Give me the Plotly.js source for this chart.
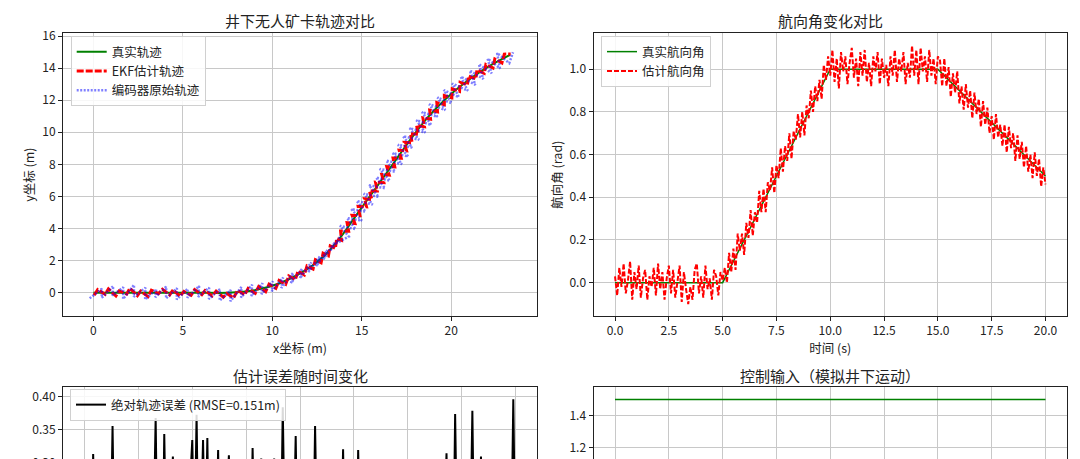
<!DOCTYPE html>
<html><head><meta charset="utf-8">
<script src="https://cdn.plot.ly/plotly-3.0.1.min.js"></script>
<style>html,body{margin:0;padding:0;overflow:hidden;background:#fff;}#chart{width:1080px;height:720px;}</style>
</head><body><div id="chart"></div>
<script>
// ---- Panel 1: trajectory (x, y in metres) ----
const trueX = [0,1.5,3,4.5,6,7.5,8.99,10.42,11.73,12.88,13.81,14.62,15.43,16.24,17.05,17.86,18.73,19.72,20.82,22.01,23.29];
const trueY = [0,0,0,0,0,0,0.149,0.592,1.31,2.275,3.448,4.71,5.97,7.23,8.5,9.76,10.98,12.11,13.13,14.04,14.82];

const ekfX = [0.04,0.24,0.66,0.84,1.26,1.44,1.86,2.04,2.46,2.64,3.06,3.24,3.64,3.86,4.26,4.46,4.84,5.06,5.46,5.66,6.06,6.24,6.64,6.86,7.26,7.46,
7.84,8.06,8.46,8.65,9.05,9.24,9.63,9.82,10.20,10.38,10.75,10.92,11.29,11.44,11.79,11.94,12.28,12.41,12.73,12.84,13.14,13.24,13.53,13.60,13.87,
13.82,14.27,14.18,14.62,14.46,14.90,14.80,15.27,15.15,15.57,15.43,15.87,15.77,16.24,16.12,16.54,16.40,16.85,16.75,17.21,17.09,17.51,17.38,17.82,17.72,
18.16,18.07,18.51,18.42,18.85,18.80,19.24,19.20,19.62,19.62,20.04,20.06,20.47,20.50,20.91,20.97,21.38,21.44,21.85,21.94,22.34,22.44,22.84,22.97,23.33];
const ekfY = [-0.16,0.20,-0.10,0.24,-0.20,0.12,-0.08,0.28,-0.18,0.10,-0.24,0.16,-0.06,0.22,-0.14,0.18,-0.22,0.08,-0.16,0.20,-0.12,0.14,-0.20,0.10,-0.28,-0.04,
-0.32,0.15,-0.13,0.27,-0.03,0.39,0.07,0.54,0.28,0.77,0.52,1.05,0.81,1.36,1.11,1.67,1.47,2.06,1.87,2.46,2.30,2.92,2.77,3.38,3.27,
3.85,3.83,4.37,4.32,4.83,4.81,5.38,5.35,5.86,5.81,6.34,6.34,6.89,6.86,7.37,7.33,7.86,7.84,8.40,8.38,8.89,8.84,9.37,9.35,9.92,
9.87,10.42,10.35,10.90,10.82,11.38,11.28,11.85,11.72,12.29,12.15,12.71,12.55,13.11,12.95,13.51,13.33,13.88,13.67,14.23,14.01,14.57,14.32,14.87,14.88];

const encX = [-0.21,0.47,0.47,1.11,1.06,1.67,1.66,2.27,2.26,2.91,2.89,3.51,3.46,4.07,4.06,4.67,4.66,5.27,5.26,5.91,5.86,6.47,6.46,7.07,7.06,7.67,
7.66,8.27,8.26,8.87,8.84,9.45,9.40,10.03,9.97,10.60,10.51,11.16,11.05,11.68,11.55,12.18,12.02,12.66,12.46,13.08,12.86,13.50,13.23,13.86,13.57,
14.28,13.79,14.66,14.18,15.01,14.42,15.22,14.72,15.61,15.12,15.95,15.41,16.31,15.80,16.58,16.01,16.87,16.37,17.25,16.74,17.60,17.03,17.82,17.31,18.20,
17.68,18.55,18.06,18.89,18.37,19.23,18.78,19.67,19.24,20.03,19.59,20.43,20.06,20.93,20.54,21.36,21.04,21.80,21.55,22.26,22.04,22.73,22.57,23.25,23.46];
const encY = [-0.35,0.25,-0.31,0.42,-0.17,0.34,-0.39,0.49,-0.25,0.31,-0.42,0.21,-0.28,0.38,-0.35,0.28,-0.42,0.25,-0.31,0.42,-0.25,0.31,-0.39,0.22,-0.49,0.17,
-0.53,0.35,-0.30,0.50,-0.20,0.59,-0.09,0.71,0.09,0.95,0.30,1.23,0.61,1.51,0.90,1.89,1.29,2.26,1.66,2.67,2.08,3.14,2.60,3.59,3.07,
3.50,4.17,3.96,4.66,4.49,5.21,5.05,5.72,5.50,6.17,5.97,6.70,6.51,7.18,6.98,7.71,7.54,8.24,8.02,8.70,8.50,9.22,9.05,9.75,9.54,
10.26,9.98,10.75,10.46,11.26,10.96,11.75,11.39,12.17,11.80,12.63,12.19,13.04,12.59,13.47,12.96,13.85,13.33,14.25,13.68,14.59,13.98,14.94,14.31,14.99];

// ---- Panel 2: heading (rad), sampled every 0.1 s from t = 0 ----
const headTrueT = [0,5,10,15,20];
const headTrue = [0,0,1,1,0.5];
const headEst = [
0.03,-0.06,0.07,-0.02,0.09,-0.05,0.01,0.10,-0.08,0.05,
-0.03,0.08,-0.07,0.02,0.06,-0.08,0.03,-0.02,0.07,-0.06,
0.09,-0.03,0.05,-0.08,0.02,0.08,-0.05,0.06,-0.07,0.01,
0.08,-0.09,0.05,-0.03,-0.10,-0.02,-0.08,0.06,0.09,-0.05,
0.03,-0.07,0.08,-0.03,0.02,-0.08,0.06,0.03,-0.06,0.05,
0.01,
0.07,0.00,0.14,0.05,0.16,0.06,0.23,0.15,0.23,0.13,
0.28,0.21,0.34,0.22,0.33,0.28,0.43,0.33,0.44,0.33,
0.47,0.43,0.54,0.42,0.55,0.49,0.63,0.52,0.64,0.57,
0.70,0.58,0.71,0.67,0.79,0.68,0.80,0.69,0.83,0.77,
0.90,0.80,0.92,0.85,0.95,0.86,1.02,0.95,1.06,0.97,
1.09,0.94,1.05,0.91,1.08,0.99,1.06,0.93,1.03,1.10,
0.96,1.05,0.92,1.08,0.97,1.09,0.94,1.03,0.92,1.06,
0.99,1.08,0.93,1.05,0.96,1.02,0.92,1.06,0.97,1.09,
0.94,1.05,0.99,1.08,0.93,1.03,0.96,1.11,0.97,1.09,
0.93,1.10,0.99,1.06,0.94,1.09,0.97,1.05,0.93,1.06,
1.04,0.92,1.05,0.92,1.01,0.87,0.98,0.89,0.99,0.84,
0.92,0.81,0.93,0.82,0.90,0.77,0.89,0.79,0.86,0.73,
0.85,0.74,0.82,0.70,0.78,0.67,0.79,0.68,0.74,0.64,
0.74,0.61,0.73,0.63,0.70,0.57,0.69,0.58,0.66,0.54,
0.64,0.52,0.60,0.49,0.61,0.50,0.58,0.45,0.54,0.46];

// ---- Panel 3: absolute trajectory error (m), sampled every 0.1 s ----
const errVals = [
0.05,0.12,0.18,0.09,0.314,0.14,0.21,0.08,0.16,0.11,
0.19,0.07,0.15,0.356,0.13,0.22,0.10,0.17,0.06,0.20,
0.12,0.25,0.09,0.16,0.13,0.23,0.08,0.18,0.11,0.26,
0.14,0.07,0.19,0.368,0.12,0.21,0.09,0.344,0.15,0.10,
0.24,0.310,0.13,0.17,0.08,0.22,0.11,0.19,0.14,0.27,
0.335,0.16,0.373,0.12,0.20,0.335,0.15,0.338,0.10,0.23,
0.13,0.18,0.320,0.09,0.21,0.14,0.25,0.312,0.11,0.17,
0.08,0.22,0.15,0.12,0.26,0.10,0.19,0.14,0.323,0.16,
0.11,0.24,0.307,0.13,0.18,0.09,0.21,0.15,0.307,0.12,
0.20,0.14,0.384,0.17,0.10,0.23,0.12,0.18,0.341,0.13,
0.09,0.19,0.15,0.24,0.11,0.17,0.13,0.356,0.16,0.08,
0.21,0.12,0.18,0.10,0.25,0.14,0.07,0.20,0.13,0.17,
0.321,0.11,0.19,0.15,0.09,0.23,0.12,0.320,0.16,0.10,
0.18,0.13,0.22,0.08,0.15,0.26,0.11,0.17,0.14,0.20,
0.09,0.24,0.12,0.16,0.10,0.21,0.13,0.18,0.07,0.23,
0.15,0.11,0.19,0.14,0.27,0.09,0.17,0.12,0.22,0.10,
0.16,0.13,0.25,0.08,0.19,0.15,0.11,0.21,0.315,0.14,
0.18,0.10,0.374,0.16,0.12,0.23,0.09,0.20,0.14,0.17,
0.379,0.13,0.21,0.11,0.310,0.15,0.19,0.08,0.24,0.12,
0.17,0.14,0.22,0.10,0.18,0.13,0.26,0.11,0.16,0.396,
0.15];

// ---- Panel 4: control inputs ----
const ctrlT = [0,20];
const ctrlV = [1.5,1.5];
const omegaT = [0,5,5,10,10,15,15,20];
const omegaV = [0,0,0.2,0.2,0,0,-0.1,-0.1];

const labels = {
  t1:'井下无人矿卡轨迹对比', t2:'航向角变化对比', t3:'估计误差随时间变化', t4:'控制输入（模拟井下运动）',
  x1:'x坐标 (m)', y1:'y坐标 (m)', x2:'时间 (s)', y2:'航向角 (rad)'
};
const xTicks1 = [0,5,10,15,20];
const yTicks3 = [0.30,0.35,0.40];
const yTicks4 = [1.2,1.4];

const FONT = 'Noto Sans CJK SC, sans-serif';
const H = 720;
const traces = [
  {x:trueX, y:trueY, xaxis:'x', yaxis:'y', mode:'lines', name:'真实轨迹', line:{color:'#008000', width:2, shape:'spline'}, legend:'legend'},
  {x:ekfX, y:ekfY, xaxis:'x', yaxis:'y', mode:'lines', name:'EKF估计轨迹', line:{color:'#ff0000', width:3, dash:'7px,2px'}, legend:'legend'},
  {x:encX, y:encY, xaxis:'x', yaxis:'y', mode:'lines', name:'编码器原始轨迹', line:{color:'rgba(0,0,255,0.5)', width:2.5, dash:'2px,1.5px'}, legend:'legend'},
  {x:headTrueT, y:headTrue, xaxis:'x2', yaxis:'y2', mode:'lines', name:'真实航向角', line:{color:'#008000', width:1.5}, legend:'legend2'},
  {y:headEst, x0:0, dx:0.1, xaxis:'x2', yaxis:'y2', mode:'lines', name:'估计航向角', line:{color:'#ff0000', width:2, dash:'5px,2px'}, legend:'legend2'},
  {y:errVals, x0:0, dx:0.1, xaxis:'x3', yaxis:'y3', mode:'lines', name:'绝对轨迹误差 (RMSE=0.151m)', line:{color:'#000000', width:2}, legend:'legend3'},
  {x:ctrlT, y:ctrlV, xaxis:'x4', yaxis:'y4', mode:'lines', name:'线速度 v', line:{color:'#008000', width:1.5}, legend:'legend4'},
  {x:omegaT, y:omegaV, xaxis:'x4', yaxis:'y4', mode:'lines', name:'角速度 ω', line:{color:'#0000ff', width:1.5}, legend:'legend4'}
];

const axBase = {showgrid:true, gridcolor:'#c8c8c8', gridwidth:1, zeroline:false, showline:true, mirror:true,
  linecolor:'#222', linewidth:1, ticks:'outside', ticklen:4, tickcolor:'#222', tickwidth:1,
  tickfont:{family:FONT, size:12, color:'#222'}, automargin:false};
function ax(extra){ return Object.assign({}, axBase, extra); }
const titleFont = {family:FONT, size:12.5, color:'#222'};

const colL = [63/1080, 537/1080], colR = [593.5/1080, 1067/1080];
const rowT = [1-316/H, 1-33.3/H], rowB = [1-669.7/H, 1-386.7/H];

const legBase = {bgcolor:'rgba(255,255,255,0.85)', bordercolor:'#d0d0d0', borderwidth:1, font:{family:FONT, size:12.5, color:'#222'},
  xanchor:'left', yanchor:'top', tracegroupgap:0, itemwidth:30};

const layout = {
  width:1080, height:H, margin:{l:0,r:0,t:0,b:0}, paper_bgcolor:'#fff', plot_bgcolor:'#fff',
  font:{family:FONT, color:'#222'}, showlegend:true,
  xaxis: ax({domain:colL, anchor:'y', range:[-1.7,24.8], tickvals:xTicks1, title:{text:labels.x1, font:titleFont, standoff:3}}),
  yaxis: ax({domain:rowT, anchor:'x', range:[-1.45,16.17], tick0:0, dtick:2, title:{text:labels.y1, font:titleFont, standoff:4}}),
  xaxis2: ax({domain:colR, anchor:'y2', range:[-1,21], tick0:0, dtick:2.5, tickformat:'.1f', title:{text:labels.x2, font:titleFont, standoff:3}}),
  yaxis2: ax({domain:rowT, anchor:'x2', range:[-0.156,1.168], tick0:0, dtick:0.2, tickformat:'.1f', title:{text:labels.y2, font:titleFont, standoff:4}}),
  xaxis3: ax({domain:colL, anchor:'y3', range:[-1,21], tick0:0, dtick:2.5, showticklabels:false}),
  yaxis3: ax({domain:rowB, anchor:'x3', range:[-0.01,0.415], tickvals:yTicks3, tickformat:'.2f'}),
  xaxis4: ax({domain:colR, anchor:'y4', range:[-1,21], tick0:0, dtick:2.5, showticklabels:false}),
  yaxis4: ax({domain:rowB, anchor:'x4', range:[-0.18,1.58], tickvals:yTicks4, tickformat:'.1f'}),
  legend: Object.assign({}, legBase, {x:70.7/1080, y:1-36/H}),
  legend2: Object.assign({}, legBase, {x:601/1080, y:1-36/H}),
  legend3: Object.assign({}, legBase, {x:70/1080, y:1-389/H}),
  legend4: Object.assign({}, legBase, {x:1060/1080, y:1-660/H, xanchor:'right', yanchor:'bottom'}),
  annotations: [
    {text:labels.t1, x:300/1080, y:1-20.7/H, xref:'paper', yref:'paper', showarrow:false, xanchor:'center', yanchor:'middle', font:{family:FONT, size:15, color:'#222'}},
    {text:labels.t2, x:830/1080, y:1-20.7/H, xref:'paper', yref:'paper', showarrow:false, xanchor:'center', yanchor:'middle', font:{family:FONT, size:15, color:'#222'}},
    {text:labels.t3, x:300/1080, y:1-375/H, xref:'paper', yref:'paper', showarrow:false, xanchor:'center', yanchor:'middle', font:{family:FONT, size:15, color:'#222'}},
    {text:labels.t4, x:830/1080, y:1-375/H, xref:'paper', yref:'paper', showarrow:false, xanchor:'center', yanchor:'middle', font:{family:FONT, size:15, color:'#222'}}
  ]
};

Plotly.newPlot('chart', traces, layout, {displayModeBar:false, staticPlot:true});
</script></body></html>
